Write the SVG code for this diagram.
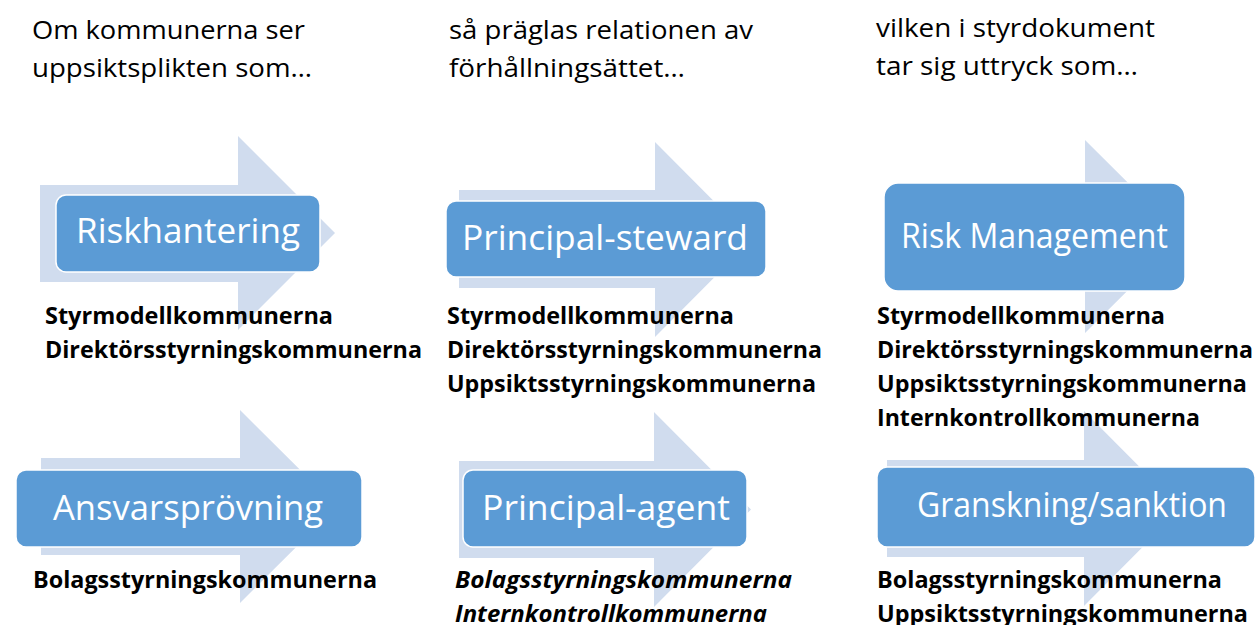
<svg xmlns="http://www.w3.org/2000/svg" width="1256" height="625" viewBox="0 0 1256 625">
<style>
.arrow{fill:#D0DCEE}
.box{fill:#5B9BD5;stroke:#FFFFFF;stroke-width:1.5}
.bt{font-family:"Open Sans","Noto Sans","Liberation Sans",sans-serif;font-size:35px;fill:#FFFFFF;text-anchor:middle}
.hd{font-family:"Open Sans","Noto Sans","Liberation Sans",sans-serif;font-size:26px;fill:#000000}
.ls{font-family:"Open Sans","Noto Sans","Liberation Sans",sans-serif;font-size:23.5px;font-weight:bold;fill:#000000}
.it{font-style:italic}
</style>
<rect width="1256" height="625" fill="#FFFFFF"/>
<g id="headings">
<text class="hd" x="32" y="39" textLength="273" lengthAdjust="spacingAndGlyphs">Om kommunerna ser</text>
<text class="hd" x="32" y="77" textLength="280" lengthAdjust="spacingAndGlyphs">uppsiktsplikten som…</text>
<text class="hd" x="449" y="39" textLength="304" lengthAdjust="spacingAndGlyphs">så präglas relationen av</text>
<text class="hd" x="449" y="77" textLength="236" lengthAdjust="spacingAndGlyphs">förhållningsättet…</text>
<text class="hd" x="876" y="37" textLength="279" lengthAdjust="spacingAndGlyphs">vilken i styrdokument</text>
<text class="hd" x="876" y="75" textLength="262" lengthAdjust="spacingAndGlyphs">tar sig uttryck som…</text>
</g>
<g id="connectors"></g>
<g id="granskning-sanktion">
<path class="arrow" d="M887,460 H1084 V411 L1181,508.5 L1084,606 V557 H887 Z"/>
<rect class="box" x="877" y="467" width="378" height="80" rx="10"/>
<text class="bt" x="1072" y="517" textLength="310" lengthAdjust="spacingAndGlyphs">Granskning/sanktion</text>
<text class="ls" x="877" y="588" textLength="345" lengthAdjust="spacingAndGlyphs">Bolagsstyrningskommunerna</text>
<text class="ls" x="877" y="622" textLength="371" lengthAdjust="spacingAndGlyphs">Uppsiktsstyrningskommunerna</text>
</g>
<g id="riskhantering">
<path class="arrow" d="M40,185 H238 V136 L335,233 L238,330 V282 H40 Z"/>
<rect class="box" x="56" y="195" width="264" height="77" rx="10"/>
<text class="bt" x="188" y="243" textLength="224" lengthAdjust="spacingAndGlyphs">Riskhantering</text>
<text class="ls" x="45" y="324" textLength="288" lengthAdjust="spacingAndGlyphs">Styrmodellkommunerna</text>
<text class="ls" x="45" y="358" textLength="377" lengthAdjust="spacingAndGlyphs">Direktörsstyrningskommunerna</text>
</g>
<g id="principal-steward">
<path class="arrow" d="M459,190 H655 V142 L752,239.5 L655,337 V288 H459 Z"/>
<rect class="box" x="446" y="201" width="320" height="76" rx="10"/>
<text class="bt" x="605" y="250" textLength="286" lengthAdjust="spacingAndGlyphs">Principal-steward</text>
<text class="ls" x="447" y="324" textLength="287" lengthAdjust="spacingAndGlyphs">Styrmodellkommunerna</text>
<text class="ls" x="447" y="358" textLength="375" lengthAdjust="spacingAndGlyphs">Direktörsstyrningskommunerna</text>
<text class="ls" x="447" y="392" textLength="369" lengthAdjust="spacingAndGlyphs">Uppsiktsstyrningskommunerna</text>
</g>
<g id="risk-management">
<path class="arrow" d="M890,188 H1085 V140 L1182,236.5 L1085,333 V285 H890 Z"/>
<rect class="box" x="884" y="183" width="301" height="108" rx="14"/>
<text class="bt" x="1034.5" y="248" textLength="267" lengthAdjust="spacingAndGlyphs">Risk Management</text>
<text class="ls" x="877" y="324" textLength="288" lengthAdjust="spacingAndGlyphs">Styrmodellkommunerna</text>
<text class="ls" x="877" y="358" textLength="376" lengthAdjust="spacingAndGlyphs">Direktörsstyrningskommunerna</text>
<text class="ls" x="877" y="392" textLength="370" lengthAdjust="spacingAndGlyphs">Uppsiktsstyrningskommunerna</text>
<text class="ls" x="877" y="426" textLength="323" lengthAdjust="spacingAndGlyphs">Internkontrollkommunerna</text>
</g>
<g id="ansvarsprovning">
<path class="arrow" d="M41,458 H240 V410 L337,506.5 L240,603 V555 H41 Z"/>
<rect class="box" x="16" y="470" width="346" height="77" rx="10"/>
<text class="bt" x="188" y="520" textLength="270" lengthAdjust="spacingAndGlyphs">Ansvarsprövning</text>
<text class="ls" x="33" y="588" textLength="344" lengthAdjust="spacingAndGlyphs">Bolagsstyrningskommunerna</text>
</g>
<g id="principal-agent">
<path class="arrow" d="M459,461 H654 V412 L751,509.5 L654,607 V558 H459 Z"/>
<rect class="box" x="463" y="470" width="284" height="77" rx="10"/>
<text class="bt" x="606" y="520" textLength="248" lengthAdjust="spacingAndGlyphs">Principal-agent</text>
<text class="ls it" x="455" y="588" textLength="337" lengthAdjust="spacingAndGlyphs">Bolagsstyrningskommunerna</text>
<text class="ls it" x="455" y="622" textLength="312" lengthAdjust="spacingAndGlyphs">Internkontrollkommunerna</text>
</g>
</svg>
